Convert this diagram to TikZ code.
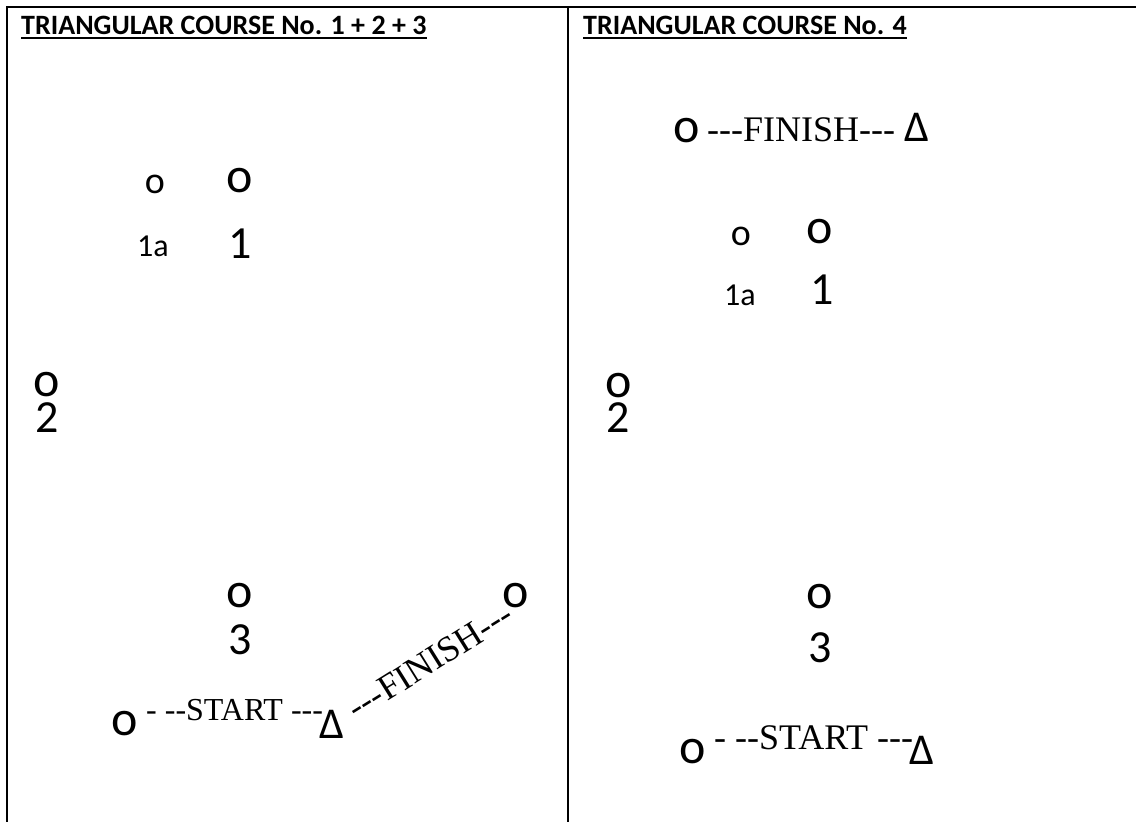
\documentclass[tikz,border=0pt]{standalone}
\usepackage{fontspec}
\setmainfont{Carlito}
\newfontfamily\crsserif{Liberation Serif}[Ligatures=TeXOff]
\usetikzlibrary{positioning}

\tikzset{
  buoy/.style={inner sep=0pt,font=\fontsize{50}{50}\selectfont},
  smallbuoy/.style={inner sep=0pt,font=\fontsize{38}{38}\selectfont},
  num/.style={inner sep=0pt,font=\fontsize{46}{46}\selectfont},
  smallnum/.style={inner sep=0pt,font=\fontsize{32}{32}\selectfont},
  delta/.style={inner sep=0pt,anchor=base west,font=\fontsize{44}{44}\selectfont},
  courseline/.style={inner sep=0pt,font=\crsserif\fontsize{36}{36}\selectfont},
  title/.style={inner sep=0pt,anchor=base west,font=\bfseries\fontsize{28}{28}\selectfont},
  ul/.style={line width=2pt},
  rule/.style={line width=2.5pt}
}

\begin{document}
\begin{tikzpicture}[x=1pt,y=-1pt]
  \useasboundingbox (0,0) rectangle (1136,822);

  % table frame
  \draw[rule] (7,822) -- (7,7) -- (1136,7);
  \draw[rule] (568,7) -- (568,822);

  % course 1 + 2 + 3
  \node[title] (ttlA) at (21,34) {TRIANGULAR COURSE No. 1 + 2 + 3};
  \draw[ul] ([yshift=-4pt]ttlA.base west) -- ([yshift=-4pt]ttlA.base east);

  \node[smallbuoy] (b1aA) at (155,184) {o};
  \node[smallnum] (l1aA) at (153,246) {1a};
  \node[buoy] (b1A) at (240,181) {o};
  \node[num] (l1A) at (240,244) {1};
  \node[buoy] (b2A) at (47,385) {o};
  \node[num] (l2A) at (47,418) {2};
  \node[buoy] (b3A) at (240,596) {o};
  \node[num] (l3A) at (240,640) {3};
  \node[buoy] (finA) at (516,596) {o};

  \node[buoy] (stA) at (125,724) {o};
  \node[courseline,font=\crsserif\fontsize{32}{32}\selectfont,anchor=base west] (stTxtA) at (146,720) {- --START ---};
  \node[delta] (dlA) at ([xshift=-4pt,yshift=-18pt]stTxtA.base east) {Δ};
  \node[courseline,rotate=32] (finTxtA) at (430,661) {---FINISH---};

  % course 4
  \node[title] (ttlB) at (583,34) {TRIANGULAR COURSE No. 4};
  \draw[ul] ([yshift=-4pt]ttlB.base west) -- ([yshift=-4pt]ttlB.base east);

  \node[buoy] (finB) at (687,131) {o};
  \node[courseline,anchor=base west] (finTxtB) at (707,141) {---FINISH---};
  \node[delta] (dlB) at ([xshift=9pt]finTxtB.base east) {Δ};

  \node[smallbuoy] (b1aB) at (741,236) {o};
  \node[smallnum] (l1aB) at (740,295) {1a};
  \node[buoy] (b1B) at (820,232) {o};
  \node[num] (l1B) at (822,290) {1};
  \node[buoy] (b2B) at (619,386) {o};
  \node[num] (l2B) at (618,418) {2};
  \node[buoy] (b3B) at (820,597) {o};
  \node[num] (l3B) at (820,648) {3};

  \node[buoy] (stB) at (693,752) {o};
  \node[courseline,anchor=base west] (stTxtB) at (714,749) {- --START ---};
  \node[delta] (dlB2) at ([xshift=-4pt,yshift=-15pt]stTxtB.base east) {Δ};
\end{tikzpicture}
\end{document}
